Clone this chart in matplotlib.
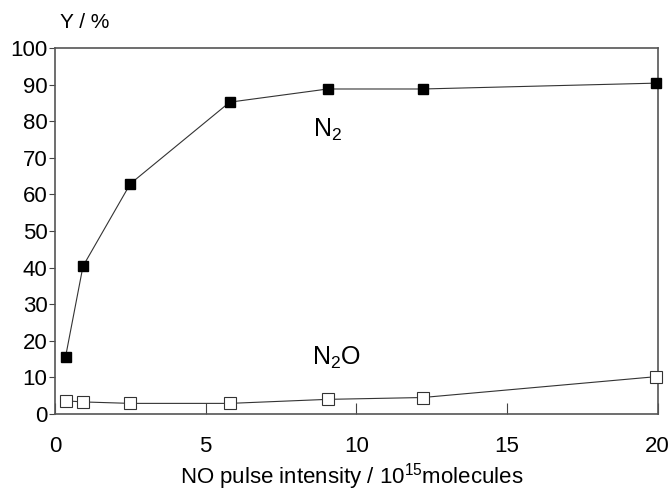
import matplotlib
matplotlib.use("Agg")
import matplotlib.pyplot as plt

plt.rcParams['font.family'] = ['Liberation Sans', 'DejaVu Sans']
plt.rcParams['mathtext.fontset'] = 'custom'
plt.rcParams['mathtext.rm'] = 'Liberation Sans'
plt.rcParams['mathtext.it'] = 'Liberation Sans'

x_n2 = [0.35, 0.93, 2.5, 5.8, 9.05, 12.2, 19.95]
y_n2 = [15.6, 40.4, 62.9, 85.2, 88.8, 88.8, 90.4]
x_n2o = [0.35, 0.93, 2.5, 5.8, 9.05, 12.2, 19.95]
y_n2o = [3.6, 3.3, 2.9, 2.9, 4.0, 4.5, 10.2]

xticks = [0, 5, 10, 15, 20]
yticks = [0, 10, 20, 30, 40, 50, 60, 70, 80, 90, 100]

fig = plt.figure(figsize=(6.7, 4.92), dpi=100)
ax = fig.add_axes([55/670, 1-414/492, (657.5-55)/670, (414-48)/492])

ax.plot(x_n2, y_n2, '-', color='#333333', lw=0.8, marker='s', ms=7.5,
        mfc='black', mec='black', zorder=3, clip_on=False)
ax.plot(x_n2o, y_n2o, '-', color='#333333', lw=0.8, marker='s', ms=8,
        mfc='white', mec='#333333', mew=0.8, zorder=3, clip_on=False)

ax.set_xlim(0, 20)
ax.set_ylim(0, 100)
ax.set_xticks(xticks)
ax.set_yticks(yticks)
ax.tick_params(axis='x', direction='in', length=8, labelsize=16, pad=16, color='#444444')
ax.tick_params(axis='y', direction='out', length=4, labelsize=16, pad=1.5, color='#444444')
for s in ax.spines.values():
    s.set_color('#555555')
    s.set_linewidth(1.2)

ax.text(8.57, 75.7, r'N$_\mathrm{2}$', fontsize=18, ha='left', va='baseline')
ax.text(8.54, 13.4, r'N$_\mathrm{2}$O', fontsize=18, ha='left', va='baseline')
fig.text(60/670, 1-28/492, 'Y / %', fontsize=15, ha='left', va='baseline')
fig.text(352/670, 1-484/492, r'NO pulse intensity / 10$^\mathrm{15}$molecules', fontsize=16,
         ha='center', va='baseline')

fig.savefig('out.png', dpi=100)
